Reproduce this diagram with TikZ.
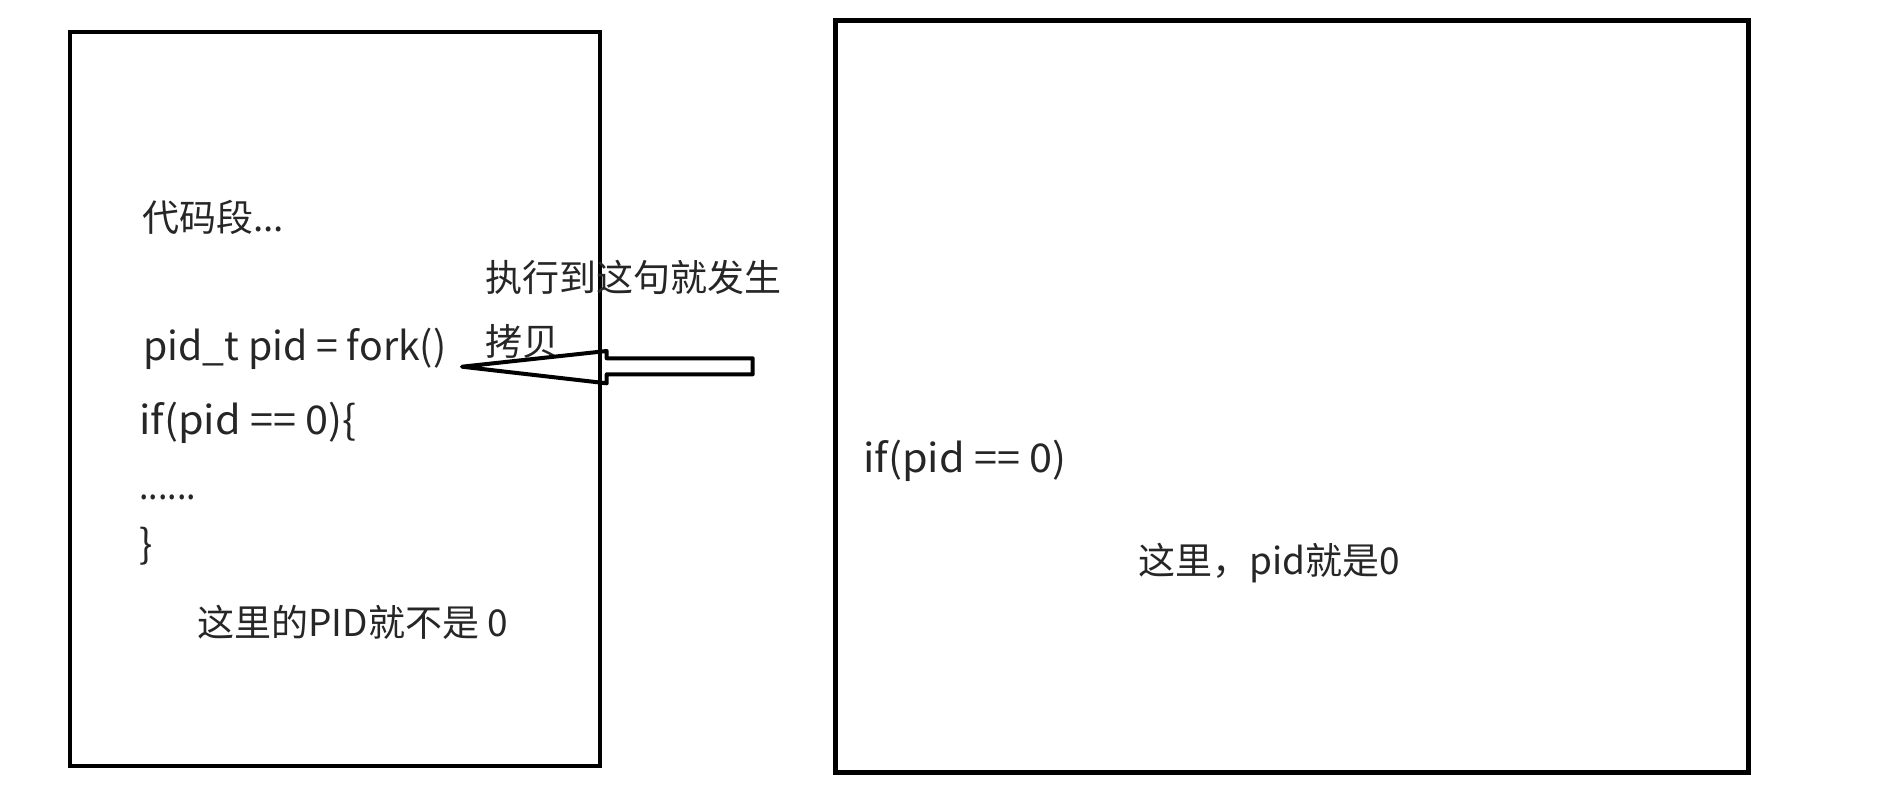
\documentclass[tikz,border=0pt]{standalone}
\usepackage{fontspec}
\setmainfont{Noto Sans CJK SC}
\begin{document}
\begin{tikzpicture}[x=0.5pt,y=-0.5pt,
  txt/.style={font=\fontsize{18.5pt}{22pt}\selectfont, text=black!85, inner sep=0pt, anchor=base west},
  code/.style={txt, font=\fontsize{19.8pt}{24pt}\selectfont},
  procbox/.style={draw=black, line width=2pt, inner sep=0pt},
  childbox/.style={draw=black, line width=2.5pt, inner sep=0pt},
  blockarrow/.style={draw=black, line width=2pt, line join=round}]
\useasboundingbox (0,0) rectangle (1900,797);
% boxes
\node[procbox, minimum width=265pt, minimum height=367pt] (parent) at (335.3,398.7) {};
\node[childbox, minimum width=456.25pt, minimum height=376pt] (child) at (1292,396.8) {};
% left texts
\node[txt] (seg) at (142,231) {代码段...};
\node[code] (fork) at (143,360) {\scalebox{0.99}[1]{pid\_t pid = fork()}};
\node[code] (ifl) at (139,434) {\scalebox{1.045}[1]{if(pid == 0)\{}};
\node[txt] (dots) at (139,499) {\scalebox{0.92}[1]{......}};
\node[code] (brace) at (139,558) {\}};
\node[txt] (notzero) at (197,636) {这里的PID就不是 0};
% label
\node[txt] (lab1) at (485,291) {执行到这句就发生};
\node[txt] (lab2) at (485,355) {拷贝};
% right texts
\node[code] (ifr) at (863,472) {\scalebox{1.045}[1]{if(pid == 0)}};
\node[txt] (iszero) at (1138,574) {这里，pid就是0};
% block arrow pointing to the fork line
\coordinate (tip) at (462,366.7);
\coordinate (tail) at (752.7,366.7);
\draw[blockarrow] (tip) -- (606.7,351) -- (606.7,358.3) -- (tail |- 0,358.3)
  -- (tail |- 0,374.3) -- (606.7,374.3) -- (606.7,383.3) -- cycle;
\end{tikzpicture}
\end{document}
